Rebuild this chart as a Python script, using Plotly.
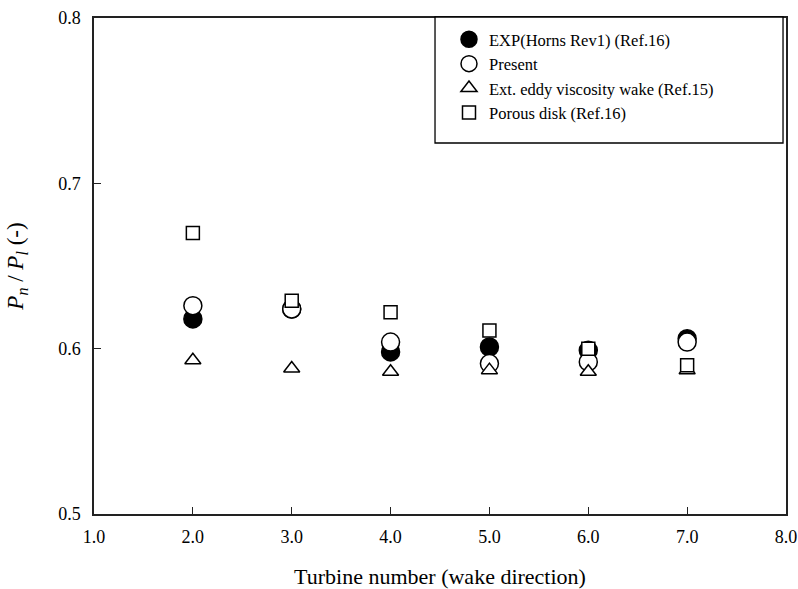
import plotly.graph_objects as go

# Turbine positions along the wake direction
turbine = [2, 3, 4, 5, 6, 7]

# Normalised power P_n / P_1 for each data set
exp_horns_rev = [0.618, 0.624, 0.598, 0.601, 0.599, 0.606]
present = [0.626, 0.624, 0.604, 0.591, 0.592, 0.604]
eddy_viscosity = [0.593, 0.588, 0.586, 0.587, 0.586, 0.587]
porous_disk = [0.670, 0.629, 0.622, 0.611, 0.600, 0.590]

x_ticks = [1, 2, 3, 4, 5, 6, 7, 8]
y_ticks = [0.5, 0.6, 0.7, 0.8]

FONT = "Liberation Serif, Times New Roman, serif"

fig = go.Figure()

series = [
    ("EXP(Horns Rev1) (Ref.16)", exp_horns_rev, "circle", 18, "black"),
    ("Present", present, "circle", 18, "white"),
    ("Ext. eddy viscosity wake (Ref.15)", eddy_viscosity, "triangle-up", 14, "white"),
    ("Porous disk (Ref.16)", porous_disk, "square", 13, "white"),
]

for name, values, symbol, size, fill in series:
    fig.add_trace(go.Scatter(
        x=turbine, y=values, mode="markers", name=name,
        marker=dict(symbol=symbol, size=size, color=fill,
                    line=dict(color="black", width=1.5)),
    ))

axis_common = dict(
    showgrid=False, zeroline=False, automargin=False,
    showline=True, linecolor="#222", linewidth=1.5, mirror=True,
    ticks="inside", ticklen=7, tickwidth=1.2, tickcolor="#222",
    tickfont=dict(family=FONT, size=18, color="black"),
)

fig.update_xaxes(
    range=[1, 8], tickvals=x_ticks,
    ticktext=[f"{v:.1f}" for v in x_ticks],
    ticklabelstandoff=6,
    title=dict(text="Turbine number (wake direction)",
               font=dict(family=FONT, size=22, color="black"), standoff=22),
    **axis_common,
)
fig.update_yaxes(
    range=[0.5, 0.8], tickvals=y_ticks,
    ticktext=[f"{v:.1f}" for v in y_ticks],
    ticklabelstandoff=8,
    title=dict(text="<i>P</i><sub><i>n</i></sub> / <i>P</i><sub><i>l</i></sub> (-)",
               font=dict(family=FONT, size=23, color="black"), standoff=28),
    **axis_common,
)

# Legend frame drawn as a shape so it can be wider than the entries
fig.add_shape(
    type="rect", xref="paper", yref="paper",
    x0=0.4928, x1=0.9957, y0=0.748, y1=1.002,
    line=dict(color="black", width=1.3), fillcolor="white", layer="above",
)

fig.update_layout(
    width=798, height=589,
    margin=dict(l=94, r=12, t=18, b=75),
    paper_bgcolor="white", plot_bgcolor="white",
    font=dict(family=FONT, color="black"),
    showlegend=True,
    legend=dict(
        x=0.513, y=0.992, xanchor="left", yanchor="top",
        bgcolor="rgba(0,0,0,0)", borderwidth=0,
        font=dict(family=FONT, size=16.5, color="black"),
        itemsizing="trace", tracegroupgap=0,
    ),
)

fig.write_html("out.html")
